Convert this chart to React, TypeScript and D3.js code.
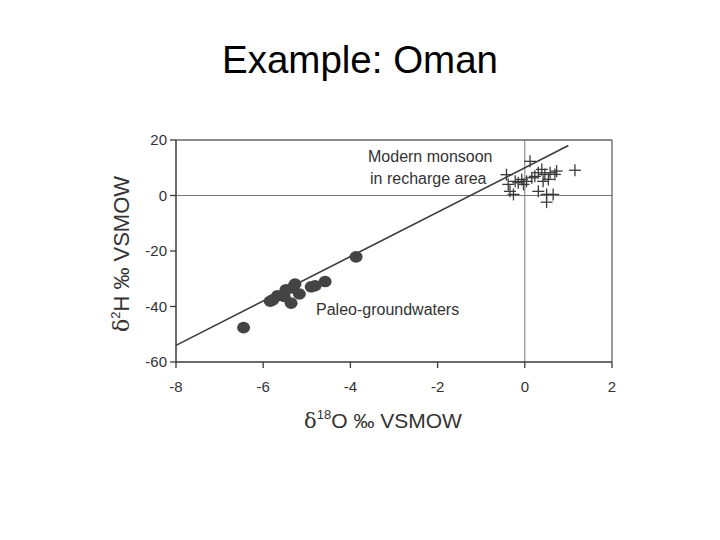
import React from "react";
import * as d3 from "d3";

const xTicks = [-8, -6, -4, -2, 0, 2];
const yTicks = [20, 0, -20, -40, -60];

// Paleo-groundwaters (filled circles): [δ18O, δ2H]
const paleoX = [-3.87, -4.58, -4.81, -4.9, -5.27, -5.32, -5.48, -5.17, -5.52, -5.67, -5.78, -5.84, -5.36, -6.45];
const paleoY = [-22.1, -31, -32.5, -32.9, -31.9, -33.3, -34, -35.5, -36.4, -36.1, -37.6, -38.1, -38.8, -47.6];

// Modern monsoon in recharge area (crosses)
const monsoonX = [1.15, 0.12, -0.42, -0.38, -0.34, -0.26, -0.22, -0.15, -0.07, 0.04, 0.16, 0.23, 0.31, 0.39, 0.46, 0.54, 0.58, 0.69, 0.73, 0.42, 0.31, 0.5, 0.65, 0.5, -0.03];
const monsoonY = [9.1, 12.3, 7.5, 4, 1.5, 0.4, 5.1, 4.6, 5.8, 5.1, 6.4, 6.9, 8.2, 9.4, 7.6, 5.8, 8.2, 7.6, 8.8, 5.1, 1.5, 0.4, 0.4, -2.4, 4];

// Meteoric water line endpoints (δ18O)
const lineX = [-8, 1.0];
const slope = 8;
const intercept = 10;

const W = 720;
const H = 540;
const left = 176;
const right = 612;
const top = 140;
const bottom = 362;

export default function App() {
  const x = d3.scaleLinear().domain([-8, 2]).range([left, right]);
  const y = d3.scaleLinear().domain([-60, 20]).range([bottom, top]);
  const ink = "#3a3a3a";
  const font = "'Liberation Sans', Arial, sans-serif";
  const line = d3
    .line<number>()
    .x((d) => x(d))
    .y((d) => y(slope * d + intercept));

  return (
    <svg width={W} height={H} style={{ position: "absolute", left: 0, top: 0, background: "#fff" }} fontFamily={font}>
      <text x={360} y={73} textAnchor="middle" fontSize={38.5} fill="#000">
        Example: Oman
      </text>
      {/* zero grid lines */}
      <line x1={x(0)} x2={x(0)} y1={top} y2={bottom} stroke="#777" strokeWidth={1} />
      <line x1={left} x2={right} y1={y(0)} y2={y(0)} stroke="#777" strokeWidth={1} />
      {/* frame */}
      <line x1={left} x2={right} y1={top} y2={top} stroke="#666" strokeWidth={1.3} />
      <line x1={right} x2={right} y1={top} y2={bottom} stroke="#666" strokeWidth={1.3} />
      <line x1={left} x2={left} y1={top} y2={bottom} stroke={ink} strokeWidth={1.5} />
      <line x1={left} x2={right} y1={bottom} y2={bottom} stroke={ink} strokeWidth={1.5} />
      {yTicks.map((t) => (
        <g key={"y" + t}>
          <line x1={left - 6} x2={left} y1={y(t)} y2={y(t)} stroke={ink} strokeWidth={1.3} />
          <text x={left - 9} y={y(t) + 5} textAnchor="end" fontSize={15} fill="#333">
            {t}
          </text>
        </g>
      ))}
      {xTicks.map((t) => (
        <g key={"x" + t}>
          <line x1={x(t)} x2={x(t)} y1={bottom} y2={bottom + 6} stroke={ink} strokeWidth={1.3} />
          <text x={x(t)} y={392} textAnchor="middle" fontSize={15} fill="#333">
            {t}
          </text>
        </g>
      ))}
      <path d={line(lineX) || ""} fill="none" stroke={ink} strokeWidth={1.6} />
      {paleoX.map((v, i) => (
        <ellipse key={"p" + i} cx={x(v)} cy={y(paleoY[i])} rx={6.5} ry={5.8} fill="#444" />
      ))}
      {monsoonX.map((v, i) => (
        <g key={"m" + i} stroke={ink} strokeWidth={1.3}>
          <line x1={x(v) - 6} x2={x(v) + 6} y1={y(monsoonY[i])} y2={y(monsoonY[i])} />
          <line x1={x(v)} x2={x(v)} y1={y(monsoonY[i]) - 6} y2={y(monsoonY[i]) + 6} />
        </g>
      ))}
      <text x={368} y={162} fontSize={16} fill="#333">Modern monsoon</text>
      <text x={370} y={184} fontSize={16} fill="#333">in recharge area</text>
      <text x={316} y={315} fontSize={16} fill="#333">Paleo-groundwaters</text>
      <text x={383} y={428} textAnchor="middle" fontSize={21} fill="#333">
        <tspan fontFamily="'DejaVu Serif', serif">δ</tspan>
        <tspan fontSize={13} dy={-9}>18</tspan>
        <tspan dy={9}>O ‰ VSMOW</tspan>
      </text>
      <text transform={`translate(129,${254}) rotate(-90)`} textAnchor="middle" fontSize={22} fill="#333">
        <tspan fontFamily="'DejaVu Serif', serif">δ</tspan>
        <tspan fontSize={13} dy={-9}>2</tspan>
        <tspan dy={9}>H ‰ VSMOW</tspan>
      </text>
    </svg>
  );
}
